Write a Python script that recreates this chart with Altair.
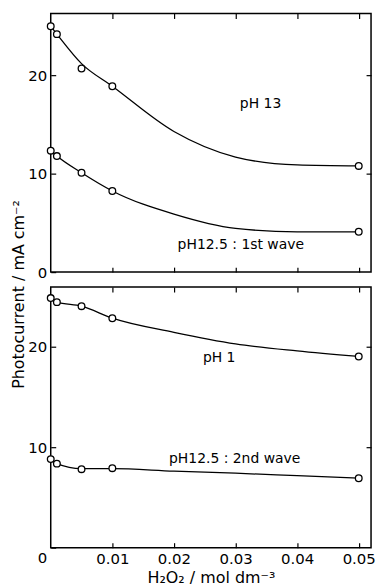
import altair as alt
import pandas as pd

# Measured points (circles)
x_pts = [0, 0.001, 0.005, 0.01, 0.05]
ph13_pts = [25.0, 24.2, 20.7, 18.9, 10.8]
ph125a_pts = [12.35, 11.8, 10.1, 8.25, 4.1]
ph1_pts = [24.8, 24.4, 24.0, 22.8, 19.0]
ph125b_pts = [8.8, 8.35, 7.8, 7.9, 6.9]

# Values
x_curve = [0, 0.001, 0.005, 0.01, 0.02, 0.03, 0.04, 0.05]
ph13_curve = [25.0, 24.2, 21.2, 18.9, 14.3, 11.7, 10.9, 10.8]
ph125a_curve = [12.35, 11.8, 10.1, 8.25, 5.9, 4.45, 4.1, 4.1]
ph1_curve = [24.8, 24.4, 24.0, 22.8, 21.4, 20.25, 19.55, 19.0]
ph125b_curve = [8.8, 8.35, 7.85, 7.85, 7.6, 7.4, 7.15, 6.9]

# Curve labels
top_labels = ["pH 13", "pH12.5 : 1st wave"]
top_label_x = [0.0307, 0.0206]
top_label_y = [17.1, 2.8]
bot_labels = ["pH 1", "pH12.5 : 2nd wave"]
bot_label_x = [0.0247, 0.0192]
bot_label_y = [18.8, 8.8]

x_ticks = [0.01, 0.02, 0.03, 0.04, 0.05]
y_ticks = [10, 20]

W = 322
FONT = "DejaVu Sans"
INWARD = alt.ExprRef(expr="-5")


def make_curve_df(a, b):
    n = len(x_curve)
    return pd.DataFrame({"x": x_curve * 2, "y": a + b, "s": ["a"] * n + ["b"] * n})


def make_pts_df(a, b):
    n = len(x_pts)
    return pd.DataFrame({"x": x_pts * 2, "y": a + b, "s": ["a"] * n + ["b"] * n})


def panel(curve_df, pts_df, lab_df, ymax, H, is_bottom):
    xs = alt.Scale(domain=[0, 0.052], nice=False, zero=False)
    ys = alt.Scale(domain=[0, ymax], nice=False)

    tick_style = dict(domain=False, labels=False, ticks=True, tickSize=INWARD,
                      tickColor="black", tickWidth=1.2, grid=False, title=None)

    if is_bottom:
        x_main = alt.Axis(values=x_ticks, format=".2f", domain=False, ticks=True,
                          tickSize=INWARD, tickColor="black", tickWidth=1.2,
                          labelPadding=9, labelFont=FONT, labelFontSize=15,
                          labelColor="black", grid=False,
                          title="H₂O₂ / mol dm⁻³", titleFont=FONT, titleFontSize=16,
                          titleFontWeight="normal", titleColor="black", titlePadding=3)
        y_main = alt.Axis(values=[0] + y_ticks, domain=False, ticks=True,
                          tickSize=INWARD, tickColor="black", tickWidth=1.2,
                          labelPadding=9, labelFont=FONT, labelFontSize=15,
                          labelColor="black", grid=False, title=None,
                          labelBaseline={"condition": {"test": "datum.value == 0", "value": "top"},
                                         "value": "middle"},
                          labelOffset={"condition": {"test": "datum.value == 0", "value": 3},
                                       "value": 0})
    else:
        x_main = alt.Axis(values=x_ticks, domain=False, ticks=True, tickSize=INWARD,
                          tickColor="black", tickWidth=1.2,
                          labels=False, grid=False, title=None)
        y_main = alt.Axis(values=[0] + y_ticks, domain=False, ticks=True,
                          tickSize=INWARD, tickColor="black", tickWidth=1.2,
                          labelPadding=9, labelFont=FONT, labelFontSize=15,
                          labelColor="black", grid=False,
                          title="Photocurrent / mA cm⁻²", titleFont=FONT, titleFontSize=16,
                          titleFontWeight="normal", titleColor="black",
                          titleAngle=270, titleBaseline="top", titleAlign="center",
                          titleX=-40, titleY=282)

    lines = alt.Chart(curve_df).mark_line(
        interpolate="monotone", color="black", strokeWidth=1.3
    ).encode(
        x=alt.X("x:Q", scale=xs, axis=x_main),
        y=alt.Y("y:Q", scale=ys, axis=y_main),
        detail="s:N",
    )

    pts = alt.Chart(pts_df).mark_point(
        shape="circle", filled=True, fill="white", stroke="black",
        strokeWidth=1.3, size=45, opacity=1
    ).encode(
        x=alt.X("x:Q", scale=xs,
                axis=alt.Axis(orient="top", values=x_ticks, **tick_style)),
        y=alt.Y("y:Q", scale=ys,
                axis=alt.Axis(orient="right", values=y_ticks, **tick_style)),
    )

    texts = alt.Chart(lab_df).mark_text(
        align="left", baseline="middle", font=FONT, fontSize=14, color="black"
    ).encode(
        x=alt.X("x:Q", scale=xs, axis=None),
        y=alt.Y("y:Q", scale=ys, axis=None),
        text="t:N",
    )

    return alt.layer(lines, pts, texts).resolve_axis(x="independent", y="independent").properties(
        width=W, height=H
    )


top = panel(
    make_curve_df(ph13_curve, ph125a_curve),
    make_pts_df(ph13_pts, ph125a_pts),
    pd.DataFrame({"x": top_label_x, "y": top_label_y, "t": top_labels}),
    26.3, 260, False,
)
bottom = panel(
    make_curve_df(ph1_curve, ph125b_curve),
    make_pts_df(ph1_pts, ph125b_pts),
    pd.DataFrame({"x": bot_label_x, "y": bot_label_y, "t": bot_labels}),
    25.9, 262, True,
)

chart = alt.vconcat(top, bottom, spacing=15, bounds="flush").properties(
    padding={"left": 10, "top": 10, "right": 2, "bottom": 0}
).configure(background="white").configure_view(stroke="black", strokeWidth=1.5)

chart.save("out.html", embed_options={"renderer": "svg", "actions": False})
